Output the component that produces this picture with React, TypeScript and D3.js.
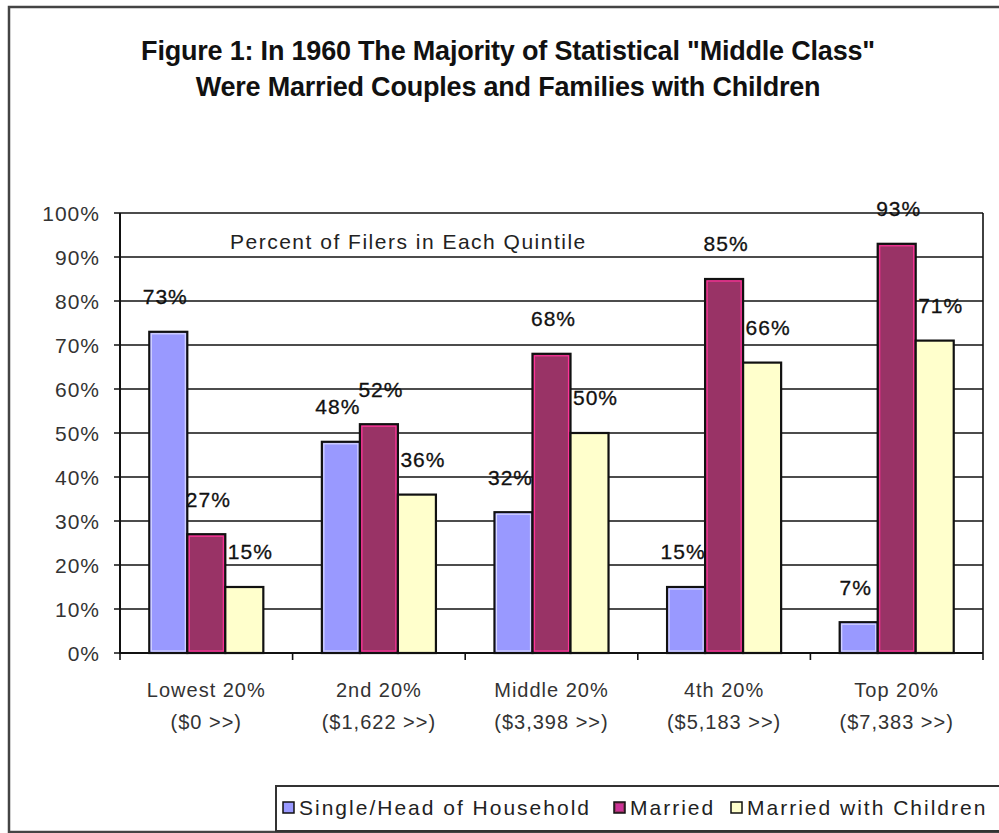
import * as d3 from 'd3';

const categories = ['Lowest 20%', '2nd 20%', 'Middle 20%', '4th 20%', 'Top 20%'];
const thresholds = ['($0 >>)', '($1,622 >>)', '($3,398 >>)', '($5,183 >>)', '($7,383 >>)'];
const seriesNames = ['Single/Head of Household', 'Married', 'Married with Children'];
const single = [73, 48, 32, 15, 7];
const married = [27, 52, 68, 85, 93];
const marriedKids = [15, 36, 50, 66, 71];
const yTicks = [0, 10, 20, 30, 40, 50, 60, 70, 80, 90, 100];

const fills = ['#9999ff', '#993366', '#ffffcc'];
const innerEdge = ['#d6d6ff', '#ff3399', null];
const labelDx = [-3, 2, 6];
const FONT = 'Arial, "Liberation Sans", sans-serif';

const plot = { left: 120, right: 983, top: 213, bottom: 653 };

export default function App() {
  const values = [single, married, marriedKids];

  const x0 = d3.scaleBand().domain(categories).range([plot.left, plot.right]).padding(0);
  const x1 = d3
    .scaleBand()
    .domain(seriesNames)
    .range([0, x0.bandwidth()])
    .paddingInner(0)
    .paddingOuter(0.77);
  const y = d3.scaleLinear().domain([0, 100]).range([plot.bottom, plot.top]);

  // label sits a bit above the bar top, like the original Excel chart
  const lift = 8;

  // legend swatch x positions
  const legendX = [283, 614, 731];

  return (
    <svg width={999} height={833} style={{ position: 'absolute', left: 0, top: 0, background: '#fff' }}>
      {/* outer frame */}
      <rect x={9} y={7} width={1000} height={825} fill="#fff" stroke="#444" strokeWidth={2.5} />

      {/* title */}
      <g fontFamily={FONT} fontWeight="bold" fontSize={27} fill="#111" textAnchor="middle" letterSpacing={-0.2}>
        <text x={508} y={60}>Figure 1: In 1960 The Majority of Statistical "Middle Class"</text>
        <text x={508} y={96}>Were Married Couples and Families with Children</text>
      </g>

      {/* gridlines */}
      {yTicks.map((t) => (
        <g key={t}>
          <line x1={plot.left - 6} x2={plot.right} y1={y(t)} y2={y(t)} stroke="#111" strokeWidth={1.6} />
          <text
            x={plot.left - 20}
            y={y(t)}
            dy="0.36em"
            textAnchor="end"
            fontFamily={FONT}
            fontSize={21}
            letterSpacing={1}
            fill="#333"
          >
            {t}%
          </text>
        </g>
      ))}
      <line x1={plot.right} x2={plot.right} y1={plot.top} y2={plot.bottom} stroke="#111" strokeWidth={1.6} />
      <line x1={plot.left} x2={plot.left} y1={plot.top} y2={plot.bottom + 1} stroke="#111" strokeWidth={2} />

      <text x={230} y={249} fontFamily={FONT} fontSize={21} letterSpacing={1.5} fill="#222">
        Percent of Filers in Each Quintile
      </text>

      {/* bars */}
      {categories.map((c, i) => (
        <g key={c} transform={`translate(${x0(c)},0)`}>
          {seriesNames.map((s, k) => {
            const v = values[k][i];
            const bx = x1(s) ?? 0;
            const w = x1.bandwidth();
            return (
              <g key={s}>
                <rect x={bx} y={y(v)} width={w} height={y(0) - y(v)} fill={fills[k]} stroke="#111" strokeWidth={2.2} />
                {innerEdge[k] && (
                  <rect
                    x={bx + 2}
                    y={y(v) + 2}
                    width={w - 4}
                    height={Math.max(0, y(0) - y(v) - 4)}
                    fill="none"
                    stroke={innerEdge[k] as string}
                    strokeWidth={1.2}
                  />
                )}
              </g>
            );
          })}
        </g>
      ))}

      {/* bottom axis */}
      <line x1={plot.left} x2={plot.right} y1={plot.bottom} y2={plot.bottom} stroke="#111" strokeWidth={2} />
      {d3.range(categories.length + 1).map((i) => {
        const xx = plot.left + i * x0.step();
        return <line key={i} x1={xx} x2={xx} y1={plot.bottom} y2={plot.bottom + 7} stroke="#111" strokeWidth={1.6} />;
      })}
      {categories.map((c, i) => (
        <g key={c} fontFamily={FONT} fontSize={20} letterSpacing={1} fill="#333" textAnchor="middle">
          <text x={(x0(c) ?? 0) + x0.bandwidth() / 2} y={697}>{c}</text>
          <text x={(x0(c) ?? 0) + x0.bandwidth() / 2} y={729}>{thresholds[i]}</text>
        </g>
      ))}

      {/* value labels */}
      {categories.map((c, i) =>
        seriesNames.map((s, k) => {
          const v = values[k][i];
          return (
            <text
              key={c + s}
              x={(x0(c) ?? 0) + (x1(s) ?? 0) + x1.bandwidth() / 2 + labelDx[k]}
              y={y(v + lift)}
              dy="0.36em"
              textAnchor="middle"
              fontFamily={FONT}
              fontSize={21}
              letterSpacing={1}
              fill="#111"
              stroke="#111"
              strokeWidth={0.3}
            >
              {v}%
            </text>
          );
        })
      )}

      {/* legend */}
      <rect x={276} y={786} width={740} height={45} fill="#fff" stroke="#333" strokeWidth={2} />
      {seriesNames.map((s, k) => {
        const lx = legendX[k];
        return (
          <g key={s}>
            <rect x={lx} y={802} width={11} height={11} fill={fills[k]} stroke="#111" strokeWidth={1.5} />
            {k === 1 && <rect x={lx + 2} y={804} width={7} height={7} fill="#cc3399" />}
            <text x={lx + 16} y={815} fontFamily={FONT} fontSize={21} letterSpacing={2} fill="#222">
              {s}
            </text>
          </g>
        );
      })}
    </svg>
  );
}
